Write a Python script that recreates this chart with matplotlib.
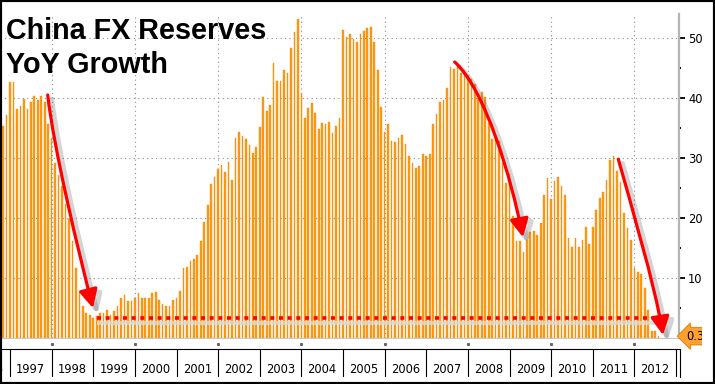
import pandas as pd
import matplotlib
matplotlib.use('Agg')
import matplotlib.pyplot as plt
import matplotlib.patheffects as pe
from matplotlib.patches import FancyArrowPatch, Rectangle
from matplotlib.path import Path
from matplotlib.transforms import Bbox, TransformedBbox

# China FX reserves, YoY growth in %, monthly from Nov 1996
start_month = '1996-11-01'
growth_1996_1999 = [35.3, 37.2, 42.7, 42.7, 38.2, 38.6, 39.8, 38.1, 39.4, 40.3,
                    39.7, 40.4, 39.4, 35.7, 33.3, 29.1, 27.1, 25.3, 22.4, 19.8,
                    16.2, 11.6, 7.8, 5.3, 4.1, 3.9, 3.3, 3.7, 4.2, 4.1,
                    4.6, 3.8, 4.5]
growth_1999_2002 = [5.4, 6.7, 7.2, 6.1, 6.1, 6.7, 7.5, 6.7, 6.7, 6.7,
                    7.5, 7.7, 6.4, 5.6, 5.3, 5.3, 6.4, 6.7, 7.8, 11.6,
                    11.9, 12.8, 13.1, 13.9, 16.2, 19.3, 22.1, 25.6, 26.9, 28.1,
                    28.9, 27.7]
growth_2002_2004 = [29.4, 26.3, 33.3, 34.3, 33.6, 33.2, 32.1, 30.8, 31.9, 35.1,
                    40.1, 37.9, 38.8, 45.8, 42.8, 42.8, 44.7, 44.2, 48.4, 51.0,
                    53.2, 40.8, 36.6, 38.4, 39.2, 37.5, 34.9, 35.8, 35.6, 36.0,
                    34.1, 35.3, 36.6]
growth_2005_2007 = [51.3, 50.1, 50.7, 49.9, 49.4, 50.7, 51.1, 51.7, 51.9, 49.4,
                    44.7, 38.5, 34.3, 35.6, 32.9, 32.7, 33.4, 33.9, 32.4, 30.3,
                    29.1, 28.4, 28.6, 30.7, 30.3, 30.7, 35.6, 37.3, 39.3, 39.7,
                    41.7, 45.2]
growth_2007_2010 = [44.9, 45.2, 44.2, 44.2, 43.4, 43.2, 42.4, 40.0, 41.0, 40.1,
                    35.8, 33.2, 33.7, 32.9, 29.2, 25.9, 27.3, 20.4, 16.1, 16.1,
                    14.3, 16.3, 17.7, 17.8, 17.2, 19.2, 23.9, 26.7, 23.2, 26.1,
                    26.8, 25.4]
growth_2010_2012 = [23.9, 16.7, 15.1, 16.7, 15.1, 16.4, 18.5, 15.7, 18.5, 21.4,
                    23.3, 24.4, 26.4, 29.7, 30.3, 27.9, 26.0, 20.9, 18.3, 16.4,
                    11.7, 11.0, 10.6, 8.4, 4.6, 1.2, 1.2, 0.31]
yoy = (growth_1996_1999 + growth_1999_2002 + growth_2002_2004 +
       growth_2005_2007 + growth_2007_2010 + growth_2010_2012)

year_labels = list(range(1996, 2013))
y_ticks = [0, 10, 20, 30, 40, 50]
y_tick_labels = ['', '10', '20', '30', '40', '50']
y_minor = [5, 15, 25, 35, 45]
grid_years = [1998, 2000, 2002, 2004, 2006, 2008, 2010, 2012]
floor_level = 3.4
last_label = '0.31'

dates = pd.date_range(start_month, periods=len(yoy), freq='MS')
xpos = dates.year + (dates.month - 1) / 12.0

W, H = 715, 384
PX_YEAR = 41.625


def px_box(left, top, right, bottom):
    return [left / W, 1 - bottom / H, (right - left) / W, (bottom - top) / H]


narrow = ['Liberation Sans Narrow', 'DejaVu Sans']

fig = plt.figure(figsize=(W / 100, H / 100), dpi=100)
fig.patch.set_facecolor('white')

ax = fig.add_axes(px_box(0, 14, 679, 338))
x_min = 1997 - 10 / PX_YEAR
ax.set_xlim(x_min, 1997 + 669 / PX_YEAR)
ax.set_ylim(0, 54)
ax.set_axisbelow(True)

ax.bar(xpos, yoy, width=0.04, color='#ff9c10', edgecolor='#f08000',
       linewidth=0.25, zorder=2)

# grid
ax.set_xticks(grid_years)
ax.tick_params(axis='x', length=0, labelbottom=False)
ax.grid(True, color='#8c8c8c', linestyle=(0, (1, 3)), linewidth=0.8)

for side in ['left', 'top']:
    ax.spines[side].set_visible(False)
ax.spines['right'].set_color('#b4b4b4')
ax.spines['right'].set_linewidth(1.6)
ax.spines['bottom'].set_color('#c8c8c8')
ax.spines['bottom'].set_linewidth(0.8)

ax.yaxis.tick_right()
ax.set_yticks(y_ticks)
ax.set_yticklabels(y_tick_labels, family=narrow)
ax.set_yticks(y_minor, minor=True)
ax.tick_params(axis='y', which='major', length=4, width=1.3, color='black',
               pad=2.5, labelsize=8.3)
ax.tick_params(axis='y', which='minor', length=1.5, width=1.5, color='black')

# small dots under the baseline
ax.plot(grid_years, [-1] * len(grid_years), ls='none', marker='s', ms=1.2,
        color='#666666', clip_on=False)

# year band at the bottom
axb = fig.add_axes(px_box(0, 349, 680, 377))
axb.set_xlim(x_min, 1997 + 670 / PX_YEAR)
axb.set_ylim(0, 1)
axb.set_xticks([])
axb.set_yticks([])
for side in ['left', 'bottom']:
    axb.spines[side].set_visible(False)
axb.spines['top'].set_linewidth(0.8)
axb.spines['right'].set_linewidth(0.8)
axb.vlines(year_labels[1:] + [2013], 0, 1, colors='black', linewidth=0.8)
for yr in year_labels:
    axb.text(yr + 0.5, 0.27, str(yr), ha='center', va='center', fontsize=8.3,
             family=narrow, clip_on=True)

# red dotted floor line with its shadow
ax.plot([1999.08, 2012.78], [floor_level - 0.9] * 2, color='#dadada',
        linewidth=2.8, alpha=0.8, zorder=4, solid_capstyle='butt')
ax.plot([1999.08, 2012.78], [floor_level] * 2, color='#ff0000', linewidth=2.6,
        linestyle=(0, (1.1, 1.3)), dash_capstyle='butt', zorder=5)

# red arrows
arrow_paths = [
    [(1997.906, 40.5), (1998.057, 31.3), (1998.634, 14.7), (1998.994, 5.0)],
    [(2007.683, 46.0), (2008.411, 41.5), (2009.036, 26.8), (2009.324, 16.8)],
    [(2011.614, 29.8), (2011.886, 23.0), (2012.496, 8.8), (2012.688, 0.5)],
]
for pts in arrow_paths:
    path = Path(pts, [Path.MOVETO, Path.CURVE4, Path.CURVE4, Path.CURVE4])
    arr = FancyArrowPatch(path=path, arrowstyle='-|>,head_length=0.55,head_width=0.28',
                          mutation_scale=20, color='#ff0000', linewidth=2.3,
                          zorder=6, clip_on=False,
                          path_effects=[pe.SimpleLineShadow(offset=(3, -3),
                                                            shadow_color='0.45',
                                                            alpha=0.3,
                                                            linewidth=3.5),
                                        pe.Normal()])
    ax.add_patch(arr)

# last value tag
tag = ax.annotate(last_label, xy=(1, yoy[-1]), xycoords=('axes fraction', 'data'),
                  xytext=(5.5, 0), textcoords='offset points', ha='left',
                  va='center', fontsize=8.3, family=narrow,
                  bbox=dict(boxstyle='larrow,pad=0.2', fc='#ffa030',
                            ec='#e07800', lw=0.6), annotation_clip=False)
tag.set_clip_on(True)
tag.set_clip_box(TransformedBbox(Bbox.from_extents(0, 0, 702 / W, 1),
                                 fig.transFigure))

# title
fig.text(6 / W, 1 - 39 / H, 'China FX Reserves', fontsize=20.7,
         fontweight='bold', family='Liberation Sans', va='baseline')
fig.text(6 / W, 1 - 73 / H, 'YoY Growth', fontsize=20.7,
         fontweight='bold', family='Liberation Sans', va='baseline')

# frame around the picture
fig.add_artist(Rectangle((0, 0), 1, 1, transform=fig.transFigure, fill=False,
                         edgecolor='black', linewidth=3, zorder=10))

fig.savefig('out.png', dpi=100)
